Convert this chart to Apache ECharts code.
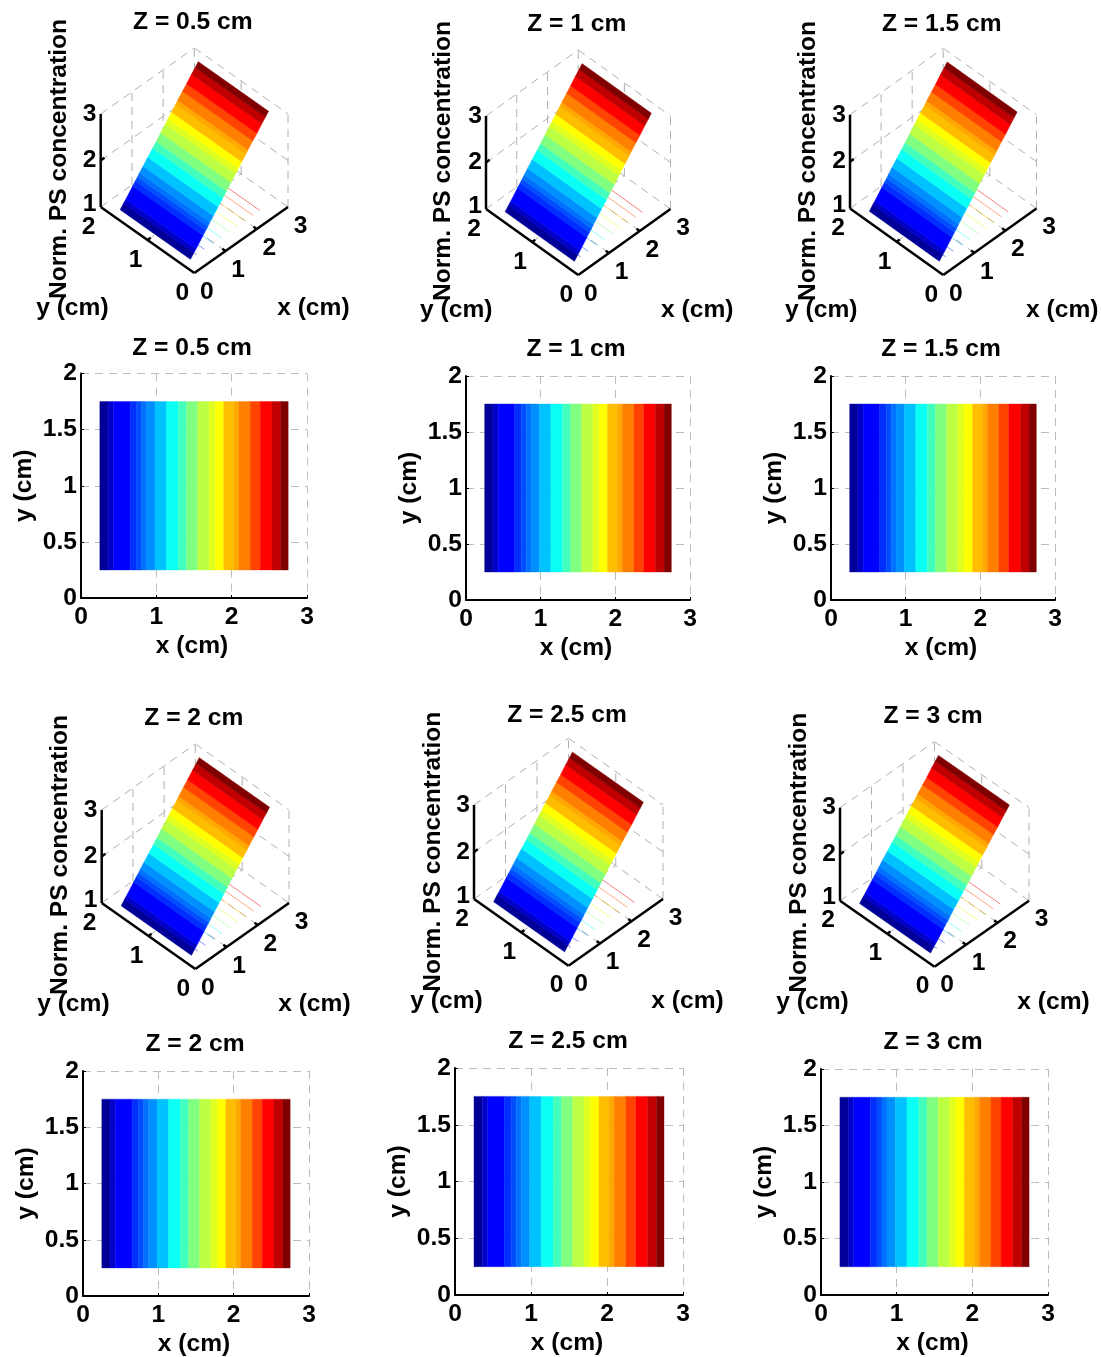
<!DOCTYPE html>
<html><head><meta charset="utf-8">
<style>html,body{margin:0;padding:0;background:#fff}#c{width:1101px;height:1357px}</style>
<script src="https://cdn.jsdelivr.net/npm/echarts@6/dist/echarts.min.js"></script>
</head><body><div id="c"></div>
<script>
// ---- values ----
const depths = ['0.5', '1', '1.5', '2', '2.5', '3'];
const xTicks = [0, 1, 2, 3];
const yTicks2d = [0, 0.5, 1, 1.5, 2];
const yTicks3d = [0, 1, 2];
const zTicks = [1, 2, 3];
const bandXEdges = [0.25,0.36,0.431,0.652,0.739,0.806,0.872,0.983,1.136,1.291,1.401,1.549,1.697,1.784,1.895,2.028,2.094,2.247,2.38,2.534,2.653,2.75];
const bandZEdges = [1,1.09,1.14,1.32,1.39,1.44,1.5,1.59,1.71,1.83,1.92,2.04,2.16,2.23,2.32,2.42,2.48,2.6,2.7,2.83,2.92,3];
const bandLevels = [1.02,1.13,1.25,1.34,1.4,1.47,1.53,1.63,1.77,1.88,2,2.12,2.19,2.25,2.38,2.42,2.5,2.62,2.75,2.875,3];
const surfaceY = [0.25, 1.75];
const contourX = [0.45, 0.7, 0.98, 1.23, 1.5, 1.75, 2.0, 2.25, 2.47];
const contourZ = [1.16, 1.36, 1.58, 1.78, 2.0, 2.2, 2.4, 2.6, 2.78];

// ---- layout and style ----
const FONT = '"Liberation Sans", Arial, sans-serif';
const FS = 24.6;
const JET = ['#00008f','#0000ff','#0080ff','#00ffff','#80ff80','#ffff00','#ff8000','#ff0000','#800000'];
const jet = z => echarts.color.lerp(Math.min(1, Math.max(0, (z - 1) / 2)), JET);
const Z_SCALE = 1.41;
const V_MAX = 2 + Z_SCALE;
// [left, right, bottom, floorHeight] of each isometric panel
const layout3d = [
  [100.7, 288, 273, 66], [486, 670.5, 275, 66], [850, 1036.5, 275, 66.5],
  [101.7, 289, 969, 66], [474, 663, 965.7, 66.7], [840, 1029, 966.7, 66]
];
// [left, right, top, bottom] of each flat panel
const layout2d = [
  [81, 307, 373.5, 598], [466, 690, 376, 600], [831, 1055, 376, 600],
  [83, 309, 1071, 1296], [455, 683, 1068, 1295], [821, 1048, 1069, 1295]
];
const titles2dPos = [[192,348],[576,349],[941,349],[195,1044],[568,1041],[933,1042]];

const project = (x, y, z) => [x / 3 - y / 2, x / 3 + y / 2 + (z - 1) / 2 * Z_SCALE];
const bands = bandLevels.map((lv, i) => [bandXEdges[i], bandXEdges[i + 1], bandZEdges[i], bandZEdges[i + 1], lv]);

// box wireframe of the 3-D axes: [x1,y1,z1,x2,y2,z2]
const dashedFrame = [
  [0,2,3,3,2,3],[3,2,3,3,0,3],[3,0,1,3,0,3],[0,2,1,3,2,1],[3,0,1,3,2,1],[3,2,1,3,2,3],
  [1,2,1,1,2,3],[2,2,1,2,2,3],[0,2,2,3,2,2],[3,1,1,3,1,3],[3,0,2,3,2,2],
  [1,0,1,1,2,1],[2,0,1,2,2,1],[0,1,1,3,1,1]
];
const solidFrame = [
  [0,0,1,3,0,1],[0,0,1,0,2,1],[0,2,1,0,2,3],
  [1,0,1,1,0.07,1],[2,0,1,2,0.07,1],[0,1,1,0.1,1,1],[0,2,2,0.12,2,2]
];

const lineSeries = (idx, segs, style) => ({
  type: 'custom', xAxisIndex: idx, yAxisIndex: idx, silent: true, clip: false,
  data: segs, encode: {x: 0, y: 1},
  renderItem(p, api) {
    const s = segs[p.dataIndex];
    const a = api.coord(project(s[0], s[1], s[2])), b = api.coord(project(s[3], s[4], s[5]));
    return {type: 'line', shape: {x1: a[0], y1: a[1], x2: b[0], y2: b[1]}, style};
  }
});

const textLabel = (idx, items) => ({
  type: 'custom', xAxisIndex: idx, yAxisIndex: idx, silent: true, clip: false, z: 5,
  data: items.map(t => [t.at[0], t.at[1]]), encode: {x: 0, y: 1},
  renderItem(p, api) {
    const t = items[p.dataIndex];
    const c = api.coord(project(t.at[0], t.at[1], t.at[2]));
    return {type: 'text', x: c[0] + t.dx, y: c[1] + t.dy, rotation: t.rot || 0,
      style: {text: t.text, fontFamily: FONT, fontWeight: 'bold', fontSize: t.fs || FS,
              fill: '#000', align: 'center', verticalAlign: 'middle'}};
  }
});

const grid = [], xAxis = [], yAxis = [], series = [], title = [];
const makeTitle = (text, x, y) => ({text, left: x, top: y, textAlign: 'center', textVerticalAlign: 'middle',
  padding: 0, textStyle: {fontFamily: FONT, fontWeight: 'bold', fontSize: FS, color: '#000'}});

depths.forEach((d, k) => {
  // isometric surface panel
  const [l, r, b, h] = layout3d[k];
  let idx = grid.length;
  grid.push({left: l, width: r - l, top: b - h * V_MAX, height: h * V_MAX, outerBoundsMode: 'none'});
  xAxis.push({type: 'value', gridIndex: idx, min: -1, max: 1, show: false});
  yAxis.push({type: 'value', gridIndex: idx, min: 0, max: V_MAX, show: false});
  title.push(makeTitle('Z = ' + d + ' cm', (l + r) / 2 - 1.5, b - 250.5));

  series.push(lineSeries(idx, dashedFrame, {stroke: '#b0b0b0', lineWidth: 1, lineDash: [8, 6]}));
  series.push(lineSeries(idx, contourX.map((x, i) => [x, surfaceY[0], 1, x, surfaceY[1], 1, contourZ[i]]), null));
  const cs = series[series.length - 1];
  cs.renderItem = function (p, api) {
    const s = cs.data[p.dataIndex];
    const a = api.coord(project(s[0], s[1], s[2])), e = api.coord(project(s[3], s[4], s[5]));
    return {type: 'line', shape: {x1: a[0], y1: a[1], x2: e[0], y2: e[1]},
      style: {stroke: jet(s[6]), lineWidth: 1, opacity: 0.5}};
  };
  series.push({
    type: 'custom', xAxisIndex: idx, yAxisIndex: idx, silent: true, clip: false,
    data: bands, encode: {x: 0, y: 1},
    renderItem(p, api) {
      const [x0, x1, z0, z1, lv] = bands[p.dataIndex];
      const pts = [[x0, surfaceY[0], z0], [x1, surfaceY[0], z1], [x1, surfaceY[1], z1], [x0, surfaceY[1], z0]]
        .map(q => api.coord(project(q[0], q[1], q[2])));
      const c = jet(lv);
      return {type: 'polygon', shape: {points: pts}, style: {fill: c, stroke: c, lineWidth: 0.6}};
    }
  });
  series.push(lineSeries(idx, solidFrame, {stroke: '#000', lineWidth: 2.5}));
  const labels = [];
  xTicks.forEach(v => labels.push({at: [v, 0, 1], dx: 12.5, dy: 19, text: String(v)}));
  yTicks3d.forEach(v => labels.push({at: [0, v, 1], dx: -12, dy: 20, text: String(v)}));
  zTicks.forEach(v => labels.push({at: [0, 2, v], dx: -11, dy: v === 1 ? -3 : 0, text: String(v)}));
  labels.push({at: [0, 0, 1], dx: 119, dy: 35.5, text: 'x (cm)'});
  labels.push({at: [0, 0, 1], dx: -122, dy: 35.5, text: 'y (cm)'});
  labels.push({at: [0, 0, 1], dx: -135.5, dy: -114, text: 'Norm. PS concentration', rot: Math.PI / 2, fs: 24.6});
  series.push(textLabel(idx, labels));

  // flat map panel
  const [L, R, T, B] = layout2d[k];
  idx = grid.length;
  grid.push({left: L, width: R - L, top: T, height: B - T, outerBoundsMode: 'none'});
  const axisCommon = {
    gridIndex: idx, type: 'value',
    axisLine: {show: true, onZero: false, lineStyle: {color: '#000', width: 2}},
    axisTick: {show: true, inside: true, length: 3, lineStyle: {color: '#000', width: 1}},
    splitLine: {show: true, showMinLine: false, lineStyle: {color: '#bdbdbd', width: 1, type: [8, 6]}},
    nameLocation: 'middle'
  };
  const nameStyle = {fontFamily: FONT, fontWeight: 'bold', fontSize: FS, color: '#000'};
  const labelStyle = {fontFamily: FONT, fontWeight: 'bold', fontSize: FS, color: '#000', hideOverlap: false};
  xAxis.push(Object.assign({}, axisCommon, {min: xTicks[0], max: xTicks[3], interval: 1, name: 'x (cm)', nameGap: 36,
    nameTextStyle: Object.assign({}, nameStyle, {padding: [0, 4, 0, 0]}),
    axisLabel: Object.assign({}, labelStyle, {margin: 7})}));
  yAxis.push(Object.assign({}, axisCommon, {min: yTicks2d[0], max: yTicks2d[4], interval: 0.5, name: 'y (cm)', nameGap: 44,
    nameTextStyle: nameStyle,
    axisLabel: Object.assign({}, labelStyle, {margin: 4})}));
  title.push(makeTitle('Z = ' + d + ' cm', titles2dPos[k][0], titles2dPos[k][1]));
  series.push({
    type: 'custom', xAxisIndex: idx, yAxisIndex: idx, silent: true, clip: false,
    data: bands, encode: {x: 0, y: 1},
    renderItem(p, api) {
      const [x0, x1, , , lv] = bands[p.dataIndex];
      const a = api.coord([x0, surfaceY[0]]), e = api.coord([x1, surfaceY[1]]);
      const c = jet(lv);
      return {type: 'rect', shape: {x: a[0], y: e[1], width: e[0] - a[0], height: a[1] - e[1]},
        style: {fill: c, stroke: c, lineWidth: 0.4}};
    }
  });
});

const chart = echarts.init(document.getElementById('c'), null, {renderer: 'canvas'});
chart.setOption({animation: false, backgroundColor: '#fff', title, grid, xAxis, yAxis, series});
</script></body></html>
